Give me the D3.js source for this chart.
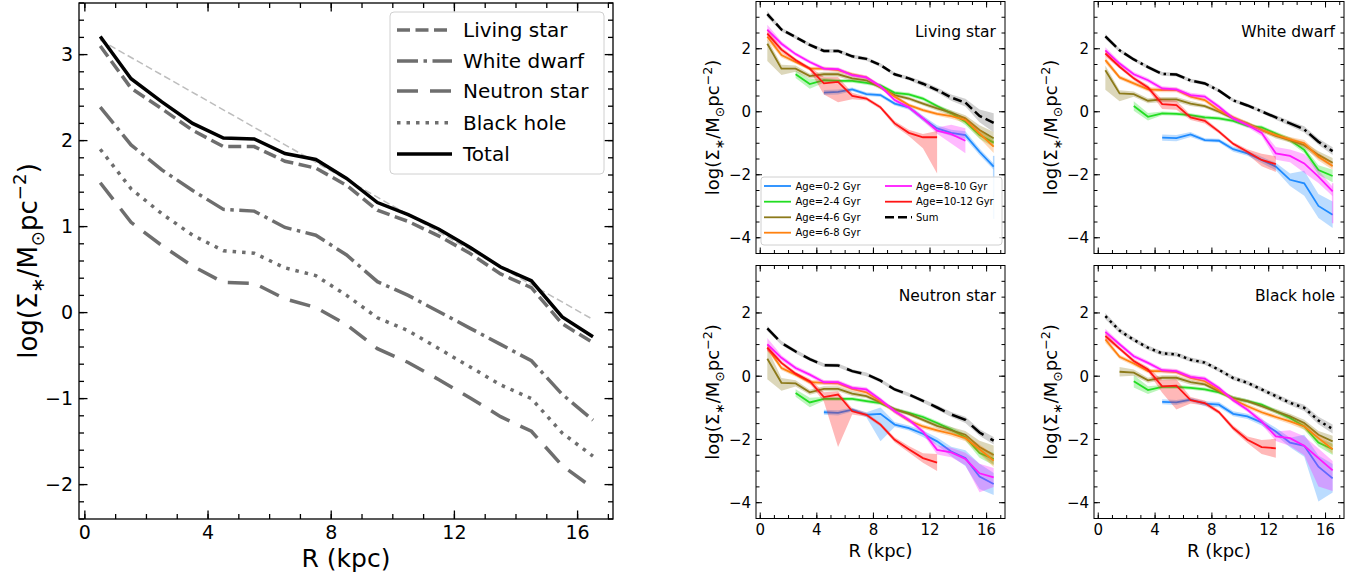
<!DOCTYPE html>
<html lang="en">
<head>
<meta charset="utf-8">
<title>Surface density profiles</title>
<script src="https://cdn.jsdelivr.net/npm/d3@7"></script>
<style>
body { margin: 0; background: #fff; }
svg { font-family: "DejaVu Sans", sans-serif; }
</style>
</head>
<body>
<script>
var W = 1363, H = 577;
var n = null;

// radial bins (kpc)
var R = [0.5,1.5,2.5,3.5,4.5,5.5,6.5,7.5,8.5,9.5,10.5,11.5,12.5,13.5,14.5,15.5,16.5];
var xMajor = [0, 4, 8, 12, 16];

// left panel: log surface density by remnant type
var livingStar  = [3.10,2.61,2.37,2.12,1.93,1.93,1.76,1.68,1.48,1.19,1.06,0.89,0.69,0.45,0.29,-0.13,-0.35];
var whiteDwarf  = [2.39,1.95,1.66,1.42,1.20,1.18,0.99,0.90,0.67,0.36,0.20,0.01,-0.18,-0.37,-0.56,-0.95,-1.25];
var neutronStar = [1.51,1.05,0.78,0.54,0.35,0.34,0.16,0.06,-0.14,-0.42,-0.58,-0.78,-0.99,-1.21,-1.38,-1.78,-2.04];
var blackHole   = [1.90,1.44,1.15,0.90,0.72,0.69,0.52,0.43,0.20,-0.06,-0.21,-0.42,-0.63,-0.84,-1.00,-1.40,-1.67];
var total       = [3.21,2.72,2.45,2.20,2.03,2.02,1.85,1.78,1.56,1.28,1.14,0.97,0.76,0.53,0.37,-0.05,-0.28];
// thin reference line
var refR = [0.5, 16.5];
var refVal = [3.17, -0.08];

var typeNames = ["Living star", "White dwarf", "Neutron star", "Black hole"];
var ageLabels = ["Age=0-2 Gyr","Age=2-4 Gyr","Age=4-6 Gyr","Age=6-8 Gyr","Age=8-10 Gyr","Age=10-12 Gyr"];
var ageColors = ["#1f8bff","#22dd22","#8c7a1a","#ff8210","#ff18ff","#ff1515"];

// living stars by age
var ls02   = [n,n,n,n,0.61,0.63,0.71,0.56,0.53,0.26,0.14,-0.21,-0.53,-0.67,-0.74,-1.27,-1.74];
var ls24   = [n,n,1.19,0.88,1.00,0.98,0.98,0.92,0.84,0.60,0.55,0.42,0.18,-0.05,-0.32,-0.74,-0.98];
var ls46   = [2.16,1.37,1.37,1.13,1.19,1.19,1.06,1.00,0.77,0.53,0.42,0.26,0.11,-0.03,-0.21,-0.58,-0.84];
var ls68   = [2.38,1.80,1.58,1.37,1.37,1.32,1.19,1.09,0.79,0.48,0.21,0.05,-0.07,-0.14,-0.26,-0.69,-1.11];
var ls810  = [2.61,2.16,1.83,1.58,1.37,1.35,1.16,1.09,0.81,0.37,0.14,-0.21,-0.60,-0.71,-0.92,n,n];
var ls1012 = [2.48,1.97,1.64,1.37,0.90,0.95,0.50,0.42,0.14,-0.37,-0.67,-0.81,-0.81,n,n,n,n];
var ls02e   = [n,n,n,n,0.08,0.08,0.06,0.06,0.06,0.06,0.08,0.08,0.1,0.1,0.12,0.1,0.1];
var ls24e   = [n,n,0.12,0.15,0.08,0.06,0.06,0.06,0.06,0.06,0.06,0.06,0.06,0.08,0.1,0.12,0.15];
var ls46e   = [[0.55,0.15],[0.2,0.12],0.1,0.08,0.08,0.08,0.08,0.06,0.06,0.06,0.06,0.06,0.08,0.08,0.1,0.15,0.2];
var ls68e   = [0.12,0.08,0.06,0.06,0.06,0.06,0.06,0.06,0.06,0.06,0.06,0.06,0.06,0.08,0.1,0.15,0.2];
var ls810e  = [0.15,0.08,0.06,0.06,0.06,0.06,0.06,0.06,0.06,0.06,0.06,0.08,0.1,0.3,0.4,n,n];
var ls1012e = [0.12,0.08,0.06,0.06,[0.35,0.2],[0.65,0.15],0.1,0.06,0.06,0.08,0.1,[0.35,0.1],[1.15,0.2],n,n,n,n];
var lsSumE  = [0.1,0.06,0.06,0.06,0.06,0.06,0.06,0.06,0.06,0.06,0.06,0.08,0.08,0.1,0.12,0.2,0.3];

// white dwarfs by age
var wd02   = [n,n,n,n,-0.82,-0.84,-0.72,-0.90,-0.92,-1.19,-1.32,-1.53,-1.74,-2.16,-2.27,-2.99,-3.27];
var wd24   = [n,n,0.18,-0.16,-0.05,-0.07,-0.11,-0.18,-0.21,-0.29,-0.45,-0.50,-0.69,-0.90,-1.21,-1.85,-2.04];
var wd46   = [1.32,0.58,0.56,0.35,0.39,0.39,0.26,0.18,0.00,-0.21,-0.37,-0.58,-0.77,-0.90,-1.06,-1.37,-1.62];
var wd68   = [1.64,1.09,0.90,0.71,0.69,0.69,0.48,0.37,0.05,-0.18,-0.39,-0.58,-0.74,-0.88,-1.00,-1.43,-1.72];
var wd810  = [1.95,1.53,1.19,1.00,0.74,0.71,0.53,0.48,0.16,-0.21,-0.42,-0.67,-1.32,-1.40,-1.64,-2.06,-2.53];
var wd1012 = [1.85,1.43,1.06,0.77,0.24,0.21,-0.18,-0.29,-0.63,-1.02,-1.27,-1.53,-1.66,n,n,n,n];
var wd02e   = [n,n,n,n,0.1,0.1,0.08,0.06,0.06,0.08,0.08,0.1,0.12,0.2,0.4,0.38,0.42];
var wd24e   = [n,n,0.15,0.12,0.06,0.06,0.06,0.06,0.06,0.06,0.06,0.06,0.06,0.08,0.1,0.15,0.2];
var wd46e   = [[0.62,0.15],[0.25,0.1],0.08,0.08,0.08,0.08,0.08,0.06,0.06,0.06,0.06,0.06,0.08,0.08,0.1,0.12,0.15];
var wd68e   = [0.1,0.07,0.07,0.07,0.07,0.07,0.07,0.07,0.07,0.07,0.07,0.07,0.07,0.08,0.1,0.12,0.12];
var wd810e  = [0.1,0.07,0.07,0.07,0.07,0.07,0.07,0.07,0.07,0.07,0.07,0.1,0.2,0.2,0.3,0.2,0.15];
var wd1012e = [0.1,0.06,0.06,0.08,0.15,0.15,0.08,0.08,0.06,0.06,0.08,0.2,0.25,n,n,n,n];
var wdSumE  = [0.08,0.06,0.06,0.06,0.06,0.06,0.06,0.06,0.06,0.06,0.06,0.06,0.07,0.08,0.1,0.1,0.12];

// neutron stars by age
var ns02   = [n,n,n,n,-1.14,-1.16,-1.06,-1.22,-1.19,-1.53,-1.64,-1.82,-2.06,-2.38,-2.59,-3.17,-3.41];
var ns24   = [n,n,-0.53,-0.83,-0.72,-0.72,-0.72,-0.79,-0.85,-1.06,-1.16,-1.29,-1.48,-1.69,-1.93,-2.43,-2.62];
var ns46   = [0.55,-0.21,-0.23,-0.51,-0.40,-0.40,-0.55,-0.63,-0.83,-1.04,-1.19,-1.38,-1.57,-1.71,-1.85,-2.24,-2.49];
var ns68   = [0.90,0.26,0.05,-0.19,-0.21,-0.23,-0.40,-0.51,-0.79,-1.11,-1.40,-1.59,-1.71,-1.82,-1.96,-2.31,-2.67];
var ns810  = [1.01,0.58,0.26,0.05,-0.19,-0.19,-0.37,-0.42,-0.74,-1.11,-1.38,-1.75,-2.33,-2.41,-2.62,-3.07,-3.20];
var ns1012 = [0.90,0.42,0.08,-0.16,-0.66,-0.58,-1.11,-1.22,-1.53,-2.01,-2.31,-2.59,-2.73,n,n,n,n];
var ns02e   = [n,n,n,n,0.08,0.08,0.06,0.08,[0.87,0.2],0.08,0.08,0.1,0.12,0.15,0.25,0.4,0.35];
var ns24e   = [n,n,0.12,0.15,0.06,0.06,0.06,0.06,0.06,0.06,0.06,0.06,0.06,0.08,0.1,0.15,0.2];
var ns46e   = [[0.65,0.35],[0.25,0.15],0.1,0.08,0.08,0.08,0.08,0.06,0.06,0.06,0.06,0.06,0.08,0.1,0.12,0.2,0.3];
var ns68e   = [0.1,0.07,0.07,0.07,0.07,0.07,0.07,0.07,0.07,0.07,0.07,0.07,0.07,0.08,0.1,0.15,0.2];
var ns810e  = [0.2,0.08,0.07,0.07,0.07,0.07,0.07,0.07,0.07,0.07,0.07,0.08,0.15,0.15,0.2,[0.6,0.3],0.3];
var ns1012e = [0.1,0.06,0.06,0.08,0.15,[1.66,0.1],0.1,0.06,0.06,0.08,0.1,0.15,0.27,n,n,n,n];
var nsSumE  = [0.08,0.06,0.06,0.06,0.06,0.06,0.06,0.06,0.06,0.06,0.06,0.06,0.07,0.08,0.1,0.1,0.12];

// black holes by age
var bh02   = [n,n,n,n,-0.81,-0.83,-0.74,-0.87,-0.90,-1.19,-1.27,-1.46,-1.75,-2.10,-2.20,-2.86,-3.23];
var bh24   = [n,n,-0.16,-0.44,-0.34,-0.34,-0.37,-0.42,-0.51,-0.69,-0.79,-0.90,-1.11,-1.32,-1.59,-2.10,-2.31];
var bh46   = [n,0.14,0.11,-0.13,-0.05,-0.05,-0.19,-0.26,-0.48,-0.69,-0.79,-0.95,-1.11,-1.27,-1.48,-1.85,-2.06];
var bh68   = [1.16,0.61,0.40,0.16,0.16,0.13,-0.05,-0.16,-0.44,-0.74,-0.95,-1.14,-1.29,-1.43,-1.59,-1.96,-2.31];
var bh810  = [1.40,1.01,0.63,0.42,0.19,0.16,-0.02,-0.08,-0.37,-0.76,-1.06,-1.43,-1.90,-1.96,-2.20,-2.59,-2.98];
var bh1012 = [1.27,0.87,0.48,0.21,-0.32,-0.30,-0.76,-0.85,-1.14,-1.64,-2.01,-2.24,-2.28,n,n,n,n];
var bh02e   = [n,n,n,n,0.08,0.08,0.06,0.08,0.08,0.08,0.08,0.1,0.12,0.15,0.35,[1.1,0.35],0.45];
var bh24e   = [n,n,0.2,0.12,0.06,0.06,0.06,0.06,0.06,0.06,0.06,0.06,0.06,0.08,0.1,0.12,0.18];
var bh46e   = [n,0.15,0.1,0.08,0.08,0.08,0.08,0.06,0.06,0.06,0.06,0.06,0.08,0.08,0.1,0.12,0.18];
var bh68e   = [0.1,0.07,0.07,0.07,0.07,0.07,0.07,0.07,0.07,0.07,0.07,0.07,0.07,0.08,0.1,0.12,0.15];
var bh810e  = [0.1,0.07,0.07,0.07,0.07,0.07,0.07,0.07,0.07,0.07,0.07,0.1,0.15,0.25,0.3,[0.9,0.3],[0.65,0.3]];
var bh1012e = [0.1,0.06,0.06,0.08,0.2,[0.75,0.2],0.1,0.08,0.06,0.08,0.1,0.22,0.3,n,n,n,n];
var bhSumE  = [0.1,0.08,0.07,0.07,0.07,0.07,0.07,0.07,0.07,0.07,0.07,0.07,0.08,0.08,0.1,0.12,0.14];

// thin band edges at the outermost bin: [panel, age index, R, low, high]
var edgeSpikes = [[0, 0, 16.5, -3.4, -1.4], [1, 4, 16.5, -3.54, -2.27]];

var gray = "#6e6e6e";
var dashes = {
    living: "13,5.5",
    wd: "21,5.5,3.5,5.5",
    ns: "21,12",
    bh: "3.5,6",
    total: null
};

var svg = d3.select("body").append("svg").attr("width", W).attr("height", H);
svg.append("rect").attr("width", W).attr("height", H).attr("fill", "#fff");

function rangeStep(a, b, s) {
    var out = [];
    for (var v = a; v <= b + 1e-9; v += s) out.push(Math.round(v * 100) / 100);
    return out;
}

function fmt(v) { return v < 0 ? "\u2212" + Math.abs(v) : String(v); }

// frame + inward ticks on all four sides
function frame(g, x, y, o) {
    var x0 = x.range()[0], x1 = x.range()[1], y0 = y.range()[0], y1 = y.range()[1];
    var t = g.append("g").attr("stroke", "#000").attr("stroke-width", o.tw);
    function hticks(vals, len) {
        vals.forEach(function(v) {
            var px = x(v);
            t.append("line").attr("x1", px).attr("x2", px).attr("y1", y0).attr("y2", y0 - len);
            t.append("line").attr("x1", px).attr("x2", px).attr("y1", y1).attr("y2", y1 + len);
        });
    }
    function vticks(vals, len) {
        vals.forEach(function(v) {
            var py = y(v);
            t.append("line").attr("y1", py).attr("y2", py).attr("x1", x0).attr("x2", x0 + len);
            t.append("line").attr("y1", py).attr("y2", py).attr("x1", x1).attr("x2", x1 - len);
        });
    }
    hticks(o.xMinor, o.minLen); hticks(o.xMajor, o.majLen);
    vticks(o.yMinor, o.minLen); vticks(o.yMajor, o.majLen);
    g.append("rect").attr("x", x0).attr("y", y1).attr("width", x1 - x0).attr("height", y0 - y1)
        .attr("fill", "none").attr("stroke", "#000").attr("stroke-width", o.fw);
    if (o.xLabels) {
        g.append("g").selectAll("text").data(o.xMajor).join("text")
            .attr("x", function(d) { return x(d); }).attr("y", o.xLabY)
            .attr("text-anchor", "middle").attr("font-size", o.fs).text(fmt);
    }
    g.append("g").selectAll("text").data(o.yMajor).join("text")
        .attr("x", x0 - o.yLabGap).attr("y", function(d) { return y(d); })
        .attr("dy", "0.36em").attr("text-anchor", "end").attr("font-size", o.fs).text(fmt);
}

// log(Σ*/M⊙pc^-2) label
function ylabel(g, cx, cy, fs) {
    var t = g.append("text").attr("transform", "translate(" + cx + "," + cy + ") rotate(-90)")
        .attr("text-anchor", "middle").attr("font-size", fs).attr("dy", "0.36em");
    var sub = fs * 0.24, sup = fs * 0.42;
    t.append("tspan").text("log(\u03A3");
    t.append("tspan").attr("font-size", fs * 0.7).attr("dy", sub).text("\u2217");
    t.append("tspan").attr("dy", -sub).text("/M");
    t.append("tspan").attr("font-size", fs * 0.7).attr("dy", sub).text("\u2299");
    t.append("tspan").attr("dy", -sub).text("pc");
    t.append("tspan").attr("font-size", fs * 0.7).attr("dy", -sup).text("\u22122");
    t.append("tspan").attr("dy", sup).text(")");
}

// ---------- left panel ----------
var xL = d3.scaleLinear().domain([-0.19, 17.15]).range([79, 613]);
var yL = d3.scaleLinear().domain([-2.4, 3.6]).range([519, 3]);
var gL = svg.append("g");

var lineL = d3.line().x(function(d) { return xL(d[0]); }).y(function(d) { return yL(d[1]); });
gL.append("path").datum(refR.map(function(r, i) { return [r, refVal[i]]; }))
    .attr("d", lineL).attr("fill", "none").attr("stroke", "#bdbdbd").attr("stroke-width", 1.5)
    .attr("stroke-dasharray", "7,3.5");

var mainSeries = [
    { vals: livingStar, color: gray, dash: dashes.living, label: "Living star" },
    { vals: whiteDwarf, color: gray, dash: dashes.wd, label: "White dwarf" },
    { vals: neutronStar, color: gray, dash: dashes.ns, label: "Neutron star" },
    { vals: blackHole, color: gray, dash: dashes.bh, label: "Black hole" },
    { vals: total, color: "#000", dash: null, label: "Total" }
];
mainSeries.forEach(function(s) {
    gL.append("path").datum(R.map(function(r, i) { return [r, s.vals[i]]; }))
        .attr("d", lineL).attr("fill", "none").attr("stroke", s.color).attr("stroke-width", 3.5)
        .attr("stroke-dasharray", s.dash);
});

frame(gL, xL, yL, {
    xMajor: xMajor, xMinor: rangeStep(0, 17, 1),
    yMajor: [-2, -1, 0, 1, 2, 3], yMinor: rangeStep(-2.4, 3.6, 0.2),
    majLen: 8.5, minLen: 5, tw: 1.3, fw: 1.3, xLabels: true, xLabY: 539, yLabGap: 6, fs: 19
});
gL.append("text").attr("x", 346).attr("y", 567).attr("text-anchor", "middle")
    .attr("font-size", 25).text("R (kpc)");
ylabel(gL, 28, 261, 26);

// legend
var lg = gL.append("g");
lg.append("rect").attr("x", 390).attr("y", 12).attr("width", 214).attr("height", 162).attr("rx", 4)
    .attr("fill", "#fff").attr("fill-opacity", 0.85).attr("stroke", "#d0d0d0").attr("stroke-width", 1);
var legRows = [30, 61, 91, 122.7, 154];
mainSeries.forEach(function(s, i) {
    lg.append("line").attr("x1", 397).attr("x2", 452).attr("y1", legRows[i]).attr("y2", legRows[i])
        .attr("stroke", s.color).attr("stroke-width", 3.5).attr("stroke-dasharray", s.dash);
    lg.append("text").attr("x", 463).attr("y", legRows[i]).attr("dy", "0.36em")
        .attr("font-size", 20).text(s.label);
});

// ---------- small panels ----------
var panels = [
    { name: typeNames[0], ages: [ls02, ls24, ls46, ls68, ls810, ls1012],
      errs: [ls02e, ls24e, ls46e, ls68e, ls810e, ls1012e], sum: livingStar, sumE: lsSumE,
      dash: "9,4", col: 0, row: 0 },
    { name: typeNames[1], ages: [wd02, wd24, wd46, wd68, wd810, wd1012],
      errs: [wd02e, wd24e, wd46e, wd68e, wd810e, wd1012e], sum: whiteDwarf, sumE: wdSumE,
      dash: "15,4,2.5,4", col: 1, row: 0 },
    { name: typeNames[2], ages: [ns02, ns24, ns46, ns68, ns810, ns1012],
      errs: [ns02e, ns24e, ns46e, ns68e, ns810e, ns1012e], sum: neutronStar, sumE: nsSumE,
      dash: "15,8", col: 0, row: 1 },
    { name: typeNames[3], ages: [bh02, bh24, bh46, bh68, bh810, bh1012],
      errs: [bh02e, bh24e, bh46e, bh68e, bh810e, bh1012e], sum: blackHole, sumE: bhSumE,
      dash: "2.5,4", col: 1, row: 1 }
];
var colX = [[756, 1005], [1094, 1344]];
var rowY = [[253.5, 1.5], [518.5, 265.5]];

function points(vals, errs) {
    return R.map(function(r, i) {
        var v = vals[i], e = errs[i];
        if (v === null) return { r: r, v: null };
        var lo = Array.isArray(e) ? e[0] : e, hi = Array.isArray(e) ? e[1] : e;
        return { r: r, v: v, lo: v - lo, hi: v + hi };
    });
}

panels.forEach(function(p, pi) {
    var x = d3.scaleLinear().domain([-0.3, 17.3]).range(colX[p.col]);
    var y = d3.scaleLinear().domain([-4.5, 3.5]).range(rowY[p.row]);
    var g = svg.append("g");
    var area = d3.area().defined(function(d) { return d.v !== null; })
        .x(function(d) { return x(d.r); }).y0(function(d) { return y(d.lo); }).y1(function(d) { return y(d.hi); });
    var line = d3.line().defined(function(d) { return d.v !== null; })
        .x(function(d) { return x(d.r); }).y(function(d) { return y(d.v); });

    p.ages.forEach(function(vals, k) {
        var pts = points(vals, p.errs[k]);
        g.append("path").datum(pts).attr("d", area).attr("fill", ageColors[k]).attr("fill-opacity", 0.3);
        g.append("path").datum(pts).attr("d", line).attr("fill", "none")
            .attr("stroke", ageColors[k]).attr("stroke-width", 1.8);
    });
    edgeSpikes.filter(function(s) { return s[0] === pi; }).forEach(function(s) {
        g.append("line").attr("x1", x(s[2])).attr("x2", x(s[2])).attr("y1", y(s[3])).attr("y2", y(s[4]))
            .attr("stroke", ageColors[s[1]]).attr("stroke-opacity", 0.35).attr("stroke-width", 1.5);
    });
    var sp = points(p.sum, p.sumE);
    g.append("path").datum(sp).attr("d", area).attr("fill", "#8a8a8a").attr("fill-opacity", 0.4);
    g.append("path").datum(sp).attr("d", line).attr("fill", "none").attr("stroke", "#000")
        .attr("stroke-width", 2.5).attr("stroke-dasharray", p.dash);

    frame(g, x, y, {
        xMajor: xMajor, xMinor: rangeStep(0, 17, 1),
        yMajor: [-4, -2, 0, 2], yMinor: rangeStep(-4.5, 3.5, 0.5),
        majLen: 6, minLen: 3.5, tw: 1, fw: 1, xLabels: p.row === 1, xLabY: 535, yLabGap: 5, fs: 15
    });
    var xr = x.range(), yr = y.range();
    g.append("text").attr("x", xr[1] - 9).attr("y", yr[1] + 35).attr("text-anchor", "end")
        .attr("font-size", 15.5).text(p.name);
    ylabel(g, xr[0] - 43, (yr[0] + yr[1]) / 2, 18);
    if (p.row === 1) {
        g.append("text").attr("x", (xr[0] + xr[1]) / 2).attr("y", 557).attr("text-anchor", "middle")
            .attr("font-size", 18).text("R (kpc)");
    }

    if (p.col === 0 && p.row === 0) {
        var lg2 = g.append("g");
        lg2.append("rect").attr("x", 761).attr("y", 177).attr("width", 241).attr("height", 68).attr("rx", 3)
            .attr("fill", "#fff").attr("fill-opacity", 0.85).attr("stroke", "#d0d0d0").attr("stroke-width", 1);
        var rows = [186, 201.7, 217.3, 232.7];
        var items = ageLabels.map(function(l, k) { return { label: l, color: ageColors[k], dash: null, w: 1.8 }; });
        items.push({ label: "Sum", color: "#000", dash: "9,4", w: 2.5 });
        items.forEach(function(it, k) {
            var c = k < 4 ? 0 : 1, r = k < 4 ? k : k - 4;
            var hx = c === 0 ? 764 : 885, tx = c === 0 ? 795.5 : 916;
            lg2.append("line").attr("x1", hx).attr("x2", hx + 27).attr("y1", rows[r]).attr("y2", rows[r])
                .attr("stroke", it.color).attr("stroke-width", it.w).attr("stroke-dasharray", it.dash);
            lg2.append("text").attr("x", tx).attr("y", rows[r]).attr("dy", "0.36em")
                .attr("font-size", 10).text(it.label);
        });
    }
});
</script>
</body>
</html>
